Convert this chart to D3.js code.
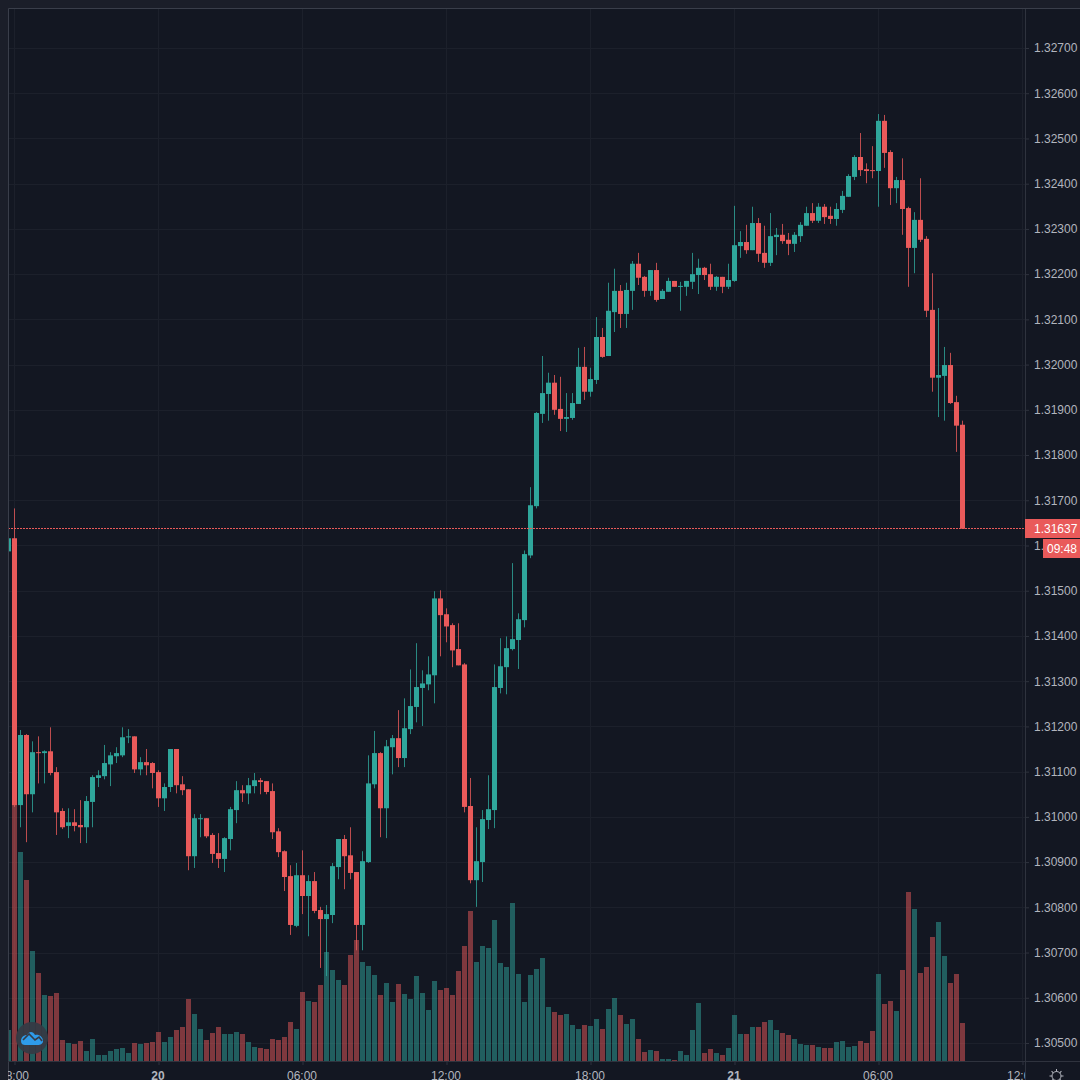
<!DOCTYPE html>
<html>
<head>
<meta charset="utf-8">
<script src="https://cdnjs.cloudflare.com/ajax/libs/d3/7.8.5/d3.min.js"></script>
<style>
html, body { margin: 0; padding: 0; background: #1b1e29; }
svg { display: block; }
text { font-family: "Liberation Sans", Arial, sans-serif; }
</style>
</head>
<body>
<svg id="chart" width="1080" height="1080"></svg>
<script>
// 15 minute candles, first one is half hidden behind the left edge
const firstCandle = Date.UTC(2020, 9, 19, 17, 45)
const stepMs = 15 * 60 * 1000

const opens = [
  1.31587, 1.31616, 1.31026, 1.31181, 1.31050, 1.31143, 1.31141, 1.31145, 1.31099, 1.31013,
  1.30980, 1.30988, 1.30982, 1.30977, 1.31033, 1.31086, 1.31090, 1.31116, 1.31134, 1.31136,
  1.31176, 1.31178, 1.31105, 1.31121, 1.31119, 1.31099, 1.31041, 1.31066, 1.31150, 1.31072,
  1.31061, 1.30913, 1.30995, 1.30997, 1.30960, 1.30920, 1.30907, 1.30951, 1.31015, 1.31059,
  1.31052, 1.31068, 1.31081, 1.31079, 1.31057, 1.30968, 1.30924, 1.30869, 1.30759, 1.30871,
  1.30825, 1.30858, 1.30794, 1.30774, 1.30783, 1.30889, 1.30951, 1.30915, 1.30878, 1.30761,
  1.30900, 1.31072, 1.31141, 1.31019, 1.31154, 1.31174, 1.31130, 1.31194, 1.31243, 1.31285,
  1.31293, 1.31313, 1.31483, 1.31448, 1.31424, 1.31371, 1.31337, 1.31024, 1.30860, 1.30900,
  1.30993, 1.31015, 1.31285, 1.31331, 1.31371, 1.31391, 1.31435, 1.31578, 1.31687, 1.31891,
  1.31935, 1.31960, 1.31902, 1.31880, 1.31882, 1.31913, 1.31995, 1.31940, 1.31966, 1.32061,
  1.32019, 1.32116, 1.32163, 1.32112, 1.32163, 1.32223, 1.32194, 1.32163, 1.32209, 1.32145,
  1.32161, 1.32185, 1.32172, 1.32172, 1.32183, 1.32198, 1.32214, 1.32200, 1.32172, 1.32194,
  1.32172, 1.32185, 1.32262, 1.32271, 1.32253, 1.32313, 1.32247, 1.32225, 1.32282, 1.32287,
  1.32276, 1.32267, 1.32284, 1.32307, 1.32335, 1.32318, 1.32349, 1.32329, 1.32322, 1.32342,
  1.32371, 1.32415, 1.32459, 1.32432, 1.32430, 1.32428, 1.32539, 1.32470, 1.32390, 1.32408,
  1.32346, 1.32258, 1.32320, 1.32278, 1.32121, 1.31971, 1.31975, 1.31999, 1.31917, 1.31867
]

const highs = [
  1.31616, 1.31682, 1.31192, 1.31183, 1.31167, 1.31178, 1.31147, 1.31198, 1.31110, 1.31019,
  1.31019, 1.31017, 1.31037, 1.31046, 1.31092, 1.31103, 1.31159, 1.31143, 1.31154, 1.31198,
  1.31194, 1.31178, 1.31132, 1.31150, 1.31121, 1.31103, 1.31074, 1.31150, 1.31150, 1.31090,
  1.31061, 1.31006, 1.31006, 1.30997, 1.30964, 1.30964, 1.30955, 1.31022, 1.31079, 1.31070,
  1.31086, 1.31097, 1.31086, 1.31079, 1.31074, 1.30975, 1.30926, 1.30893, 1.30898, 1.30926,
  1.30871, 1.30878, 1.30801, 1.30805, 1.30898, 1.30951, 1.30960, 1.30977, 1.30878, 1.30924,
  1.31136, 1.31190, 1.31143, 1.31170, 1.31181, 1.31236, 1.31262, 1.31326, 1.31384, 1.31324,
  1.31355, 1.31499, 1.31501, 1.31461, 1.31428, 1.31428, 1.31340, 1.31086, 1.30977, 1.31015,
  1.31092, 1.31337, 1.31395, 1.31399, 1.31561, 1.31450, 1.31589, 1.31729, 1.31895, 1.32019,
  1.31982, 1.31977, 1.31973, 1.31937, 1.31937, 1.32037, 1.32039, 1.31993, 1.32105, 1.32081,
  1.32181, 1.32212, 1.32176, 1.32181, 1.32229, 1.32247, 1.32196, 1.32209, 1.32225, 1.32167,
  1.32192, 1.32185, 1.32183, 1.32185, 1.32247, 1.32234, 1.32216, 1.32223, 1.32196, 1.32194,
  1.32223, 1.32351, 1.32295, 1.32309, 1.32349, 1.32324, 1.32307, 1.32335, 1.32302, 1.32311,
  1.32291, 1.32293, 1.32315, 1.32349, 1.32357, 1.32357, 1.32355, 1.32349, 1.32357, 1.32384,
  1.32421, 1.32463, 1.32512, 1.32445, 1.32483, 1.32554, 1.32552, 1.32474, 1.32415, 1.32456,
  1.32349, 1.32337, 1.32412, 1.32284, 1.32202, 1.32125, 1.32039, 1.32026, 1.31931, 1.31876
]

const lows = [
  1.31587, 1.31022, 1.30977, 1.30944, 1.31010, 1.31074, 1.31074, 1.31092, 1.30960, 1.30973,
  1.30953, 1.30968, 1.30942, 1.30942, 1.30977, 1.31066, 1.31083, 1.31068, 1.31119, 1.31132,
  1.31163, 1.31097, 1.31092, 1.31092, 1.31063, 1.31022, 1.31013, 1.31055, 1.31052, 1.31048,
  1.30882, 1.30887, 1.30955, 1.30953, 1.30898, 1.30887, 1.30878, 1.30926, 1.30986, 1.31033,
  1.31028, 1.31052, 1.31050, 1.31050, 1.30951, 1.30911, 1.30836, 1.30739, 1.30756, 1.30785,
  1.30736, 1.30787, 1.30666, 1.30648, 1.30765, 1.30862, 1.30840, 1.30862, 1.30705, 1.30705,
  1.30898, 1.31063, 1.30955, 1.30953, 1.31094, 1.31110, 1.31110, 1.31183, 1.31209, 1.31201,
  1.31280, 1.31251, 1.31355, 1.31386, 1.31331, 1.31335, 1.31010, 1.30853, 1.30801, 1.30856,
  1.30973, 1.30975, 1.31273, 1.31271, 1.31368, 1.31327, 1.31419, 1.31572, 1.31682, 1.31871,
  1.31876, 1.31889, 1.31853, 1.31851, 1.31878, 1.31913, 1.31922, 1.31929, 1.31957, 1.32015,
  1.32019, 1.32072, 1.32081, 1.32081, 1.32121, 1.32176, 1.32150, 1.32152, 1.32139, 1.32145,
  1.32161, 1.32172, 1.32119, 1.32152, 1.32167, 1.32156, 1.32187, 1.32165, 1.32163, 1.32158,
  1.32167, 1.32183, 1.32236, 1.32245, 1.32253, 1.32227, 1.32214, 1.32218, 1.32242, 1.32267,
  1.32242, 1.32249, 1.32271, 1.32307, 1.32313, 1.32313, 1.32311, 1.32311, 1.32307, 1.32335,
  1.32371, 1.32408, 1.32417, 1.32401, 1.32412, 1.32349, 1.32435, 1.32353, 1.32357, 1.32287,
  1.32172, 1.32202, 1.32271, 1.32105, 1.31940, 1.31884, 1.31876, 1.31913, 1.31807, 1.31637
]

const closes = [
  1.31616, 1.31026, 1.31181, 1.31050, 1.31143, 1.31141, 1.31145, 1.31097, 1.31010, 1.30977,
  1.30988, 1.30980, 1.30977, 1.31035, 1.31088, 1.31092, 1.31119, 1.31136, 1.31141, 1.31176,
  1.31178, 1.31105, 1.31121, 1.31114, 1.31097, 1.31041, 1.31066, 1.31150, 1.31070, 1.31059,
  1.30913, 1.30997, 1.30997, 1.30957, 1.30918, 1.30907, 1.30953, 1.31017, 1.31059, 1.31052,
  1.31070, 1.31081, 1.31077, 1.31055, 1.30966, 1.30922, 1.30867, 1.30761, 1.30871, 1.30825,
  1.30858, 1.30792, 1.30774, 1.30785, 1.30891, 1.30951, 1.30913, 1.30876, 1.30761, 1.30902,
  1.31074, 1.31141, 1.31019, 1.31156, 1.31174, 1.31130, 1.31196, 1.31245, 1.31287, 1.31295,
  1.31315, 1.31483, 1.31446, 1.31421, 1.31368, 1.31335, 1.31022, 1.30860, 1.30902, 1.30995,
  1.31017, 1.31287, 1.31333, 1.31373, 1.31393, 1.31437, 1.31581, 1.31689, 1.31893, 1.31937,
  1.31960, 1.31900, 1.31880, 1.31884, 1.31915, 1.31995, 1.31940, 1.31968, 1.32061, 1.32017,
  1.32119, 1.32163, 1.32112, 1.32165, 1.32223, 1.32192, 1.32163, 1.32209, 1.32143, 1.32163,
  1.32185, 1.32172, 1.32174, 1.32185, 1.32200, 1.32214, 1.32198, 1.32172, 1.32194, 1.32172,
  1.32187, 1.32264, 1.32271, 1.32253, 1.32313, 1.32245, 1.32225, 1.32284, 1.32287, 1.32273,
  1.32267, 1.32287, 1.32309, 1.32335, 1.32318, 1.32349, 1.32326, 1.32322, 1.32344, 1.32373,
  1.32417, 1.32459, 1.32430, 1.32428, 1.32428, 1.32539, 1.32468, 1.32390, 1.32408, 1.32344,
  1.32258, 1.32320, 1.32276, 1.32119, 1.31971, 1.31977, 1.31999, 1.31915, 1.31865, 1.31637
]

const volumes = [
  31, 256, 209, 181, 110, 88, 66, 65, 68, 21,
  18, 17, 20, 10, 22, 6, 6, 10, 12, 13,
  8, 18, 17, 18, 19, 29, 19, 24, 31, 34,
  62, 47, 32, 21, 28, 34, 27, 27, 29, 27,
  19, 14, 13, 12, 22, 21, 24, 39, 32, 69,
  60, 59, 76, 109, 91, 81, 76, 106, 121, 99,
  95, 86, 66, 78, 59, 77, 67, 62, 85, 68,
  51, 80, 71, 73, 66, 90, 115, 150, 99, 115,
  113, 141, 98, 94, 158, 87, 59, 86, 92, 103,
  54, 49, 46, 47, 36, 32, 36, 35, 42, 32,
  52, 63, 46, 37, 42, 22, 9, 11, 10, 2,
  2, 1, 10, 6, 31, 58, 8, 12, 8, 6,
  13, 46, 27, 27, 34, 34, 39, 41, 31, 28,
  26, 22, 17, 16, 16, 14, 13, 13, 19, 20,
  14, 15, 20, 18, 30, 87, 57, 60, 50, 91,
  169, 152, 88, 94, 124, 139, 105, 78, 87, 38
]

const priceTicks = d3.range(0, 23).map(i => (130500 + i * 100) / 100000)
const timeTicks = [
  Date.UTC(2020, 9, 19, 18), Date.UTC(2020, 9, 20, 0), Date.UTC(2020, 9, 20, 6),
  Date.UTC(2020, 9, 20, 12), Date.UTC(2020, 9, 20, 18), Date.UTC(2020, 9, 21, 0),
  Date.UTC(2020, 9, 21, 6), Date.UTC(2020, 9, 21, 12)
].map(t => new Date(t))

const lastPrice = 1.31637
const countdown = '09:48'

const upColor = '#2fa69b'
const downColor = '#e95a5a'
const textColor = '#b2b5be'
const gridColor = '#1c202b'
const lineColor = '#2f333e'
const bgColor = '#131722'

const paneLeft = 8, paneTop = 9, paneRight = 1025, paneBottom = 1061

const candles = opens.map((o, i) => ({
  time: new Date(firstCandle + i * stepMs),
  open: o, high: highs[i], low: lows[i], close: closes[i], volume: volumes[i]
}))

let svg = d3.select('#chart')

let x = d3.scaleTime()
  .domain([candles[0].time, candles[candles.length - 1].time])
  .range([8.5, 962.5])

let y = d3.scaleLinear()
  .domain([1.305, 1.327])
  .range([1043, 48])

let vol = d3.scaleLinear()
  .domain([0, 256])
  .range([paneBottom, 805])

let defs = svg.append('defs')
defs.append('clipPath').attr('id', 'pane')
  .append('rect').attr('x', paneLeft).attr('y', paneTop).attr('width', paneRight - paneLeft).attr('height', paneBottom - paneTop)
defs.append('clipPath').attr('id', 'timeClip')
  .append('rect').attr('x', paneLeft).attr('y', paneBottom).attr('width', paneRight - paneLeft).attr('height', 1080 - paneBottom)

svg.append('rect')
  .attr('x', paneLeft).attr('y', paneTop)
  .attr('width', 1080 - paneLeft).attr('height', 1080 - paneTop)
  .attr('fill', bgColor)

let pane = svg.append('g').attr('clip-path', 'url(#pane)')

pane.selectAll('line.hgrid')
  .data(priceTicks)
  .enter().append('line')
  .attr('class', 'hgrid')
  .attr('x1', paneLeft).attr('x2', paneRight)
  .attr('y1', d => Math.round(y(d)) + 0.5).attr('y2', d => Math.round(y(d)) + 0.5)
  .attr('stroke', gridColor)

pane.selectAll('line.vgrid')
  .data(timeTicks)
  .enter().append('line')
  .attr('class', 'vgrid')
  .attr('x1', d => x(d)).attr('x2', d => x(d))
  .attr('y1', paneTop).attr('y2', paneBottom)
  .attr('stroke', gridColor)

pane.selectAll('rect.vol')
  .data(candles)
  .enter().append('rect')
  .attr('class', 'vol')
  .attr('x', d => x(d.time) - 2.5)
  .attr('width', 5)
  .attr('y', d => vol(d.volume))
  .attr('height', d => paneBottom - vol(d.volume))
  .attr('fill', d => d.close >= d.open ? upColor : downColor)
  .attr('fill-opacity', 0.5)

pane.selectAll('line.wick')
  .data(candles)
  .enter().append('line')
  .attr('class', 'wick')
  .attr('x1', d => x(d.time)).attr('x2', d => x(d.time))
  .attr('y1', d => y(d.high)).attr('y2', d => y(d.low))
  .attr('stroke', d => d.close >= d.open ? upColor : downColor)
  .attr('stroke-width', 1)
  .attr('stroke-opacity', 0.8)

pane.selectAll('rect.body')
  .data(candles)
  .enter().append('rect')
  .attr('class', 'body')
  .attr('x', d => x(d.time) - 2.5)
  .attr('width', 5)
  .attr('y', d => Math.min(y(d.open), y(d.close)))
  .attr('height', d => Math.max(1, Math.abs(y(d.open) - y(d.close))))
  .attr('fill', d => d.close >= d.open ? upColor : downColor)

// last price line
let tagY = Math.floor(y(lastPrice))

pane.append('line')
  .attr('x1', paneLeft).attr('x2', paneRight)
  .attr('y1', tagY + 0.5).attr('y2', tagY + 0.5)
  .attr('stroke', downColor)
  .attr('stroke-dasharray', '2 1')

// frame
svg.append('path')
  .attr('d', `M${paneLeft + 0.5},1080V${paneTop - 0.5}H1080`)
  .attr('fill', 'none').attr('stroke', '#3a3e4a')
svg.append('line')
  .attr('x1', paneRight + 0.5).attr('x2', paneRight + 0.5).attr('y1', paneTop).attr('y2', 1080)
  .attr('stroke', lineColor)
svg.append('line')
  .attr('x1', paneLeft).attr('x2', 1080).attr('y1', paneBottom + 0.5).attr('y2', paneBottom + 0.5)
  .attr('stroke', lineColor)

// axes
let yAxis = d3.axisRight(y)
  .tickValues(priceTicks)
  .tickFormat(d3.format('.5f'))
  .tickSize(4)
  .tickPadding(5)

let yG = svg.append('g')
  .attr('transform', `translate(${paneRight},0)`)
  .call(yAxis)
yG.select('.domain').remove()
yG.selectAll('line').attr('stroke', lineColor)
yG.selectAll('text').attr('fill', textColor).style('font-size', '12px')

const fmtTime = d => d.getUTCHours() === 0 ? d3.utcFormat('%-d')(d) : d3.utcFormat('%H:%M')(d)

let xAxis = d3.axisBottom(x)
  .tickValues(timeTicks)
  .tickFormat(fmtTime)
  .tickSize(4)
  .tickPadding(6)

let xG = svg.append('g')
  .attr('clip-path', 'url(#timeClip)')
  .append('g')
  .attr('transform', `translate(0,${paneBottom})`)
  .call(xAxis)
xG.select('.domain').remove()
xG.selectAll('line').attr('stroke', lineColor)
xG.selectAll('text')
  .attr('x', -1)
  .attr('y', 10.5)
  .attr('fill', textColor)
  .style('font-size', '12px')
  .style('font-weight', d => d.getUTCHours() === 0 ? 'bold' : 'normal')

// price and countdown tags
svg.append('rect')
  .attr('x', paneRight).attr('y', tagY - 9).attr('width', 1080 - paneRight).attr('height', 19)
  .attr('fill', downColor)
svg.append('text')
  .attr('x', 1034).attr('y', tagY + 4.5)
  .attr('fill', '#fff').style('font-size', '12px')
  .text(d3.format('.5f')(lastPrice))
svg.append('rect')
  .attr('x', 1043).attr('y', tagY + 11).attr('width', 37).attr('height', 19)
  .attr('fill', downColor)
svg.append('text')
  .attr('x', 1047).attr('y', tagY + 25)
  .attr('fill', '#fff').style('font-size', '12px')
  .text(countdown)

// logo bubble
let logo = svg.append('g').attr('transform', 'translate(32,1038)')
logo.append('circle').attr('r', 16).attr('fill', '#363a45').attr('fill-opacity', 0.95)
logo.append('path')
  .attr('d', 'M-11,3C-11,-1 -8,-3 -5,-3C-3,-7 1,-7 3,-3C7,-4 11,-1 11,3C11,6 8,7 6,7H-7C-9,7 -11,6 -11,3Z')
  .attr('fill', '#2e9bea')
logo.append('path')
  .attr('d', 'M-9,2L-3,-4L3,2L7,-1L10,3')
  .attr('fill', 'none').attr('stroke', '#363a45').attr('stroke-width', 1.6)

// settings gear
let gear = svg.append('g').attr('transform', 'translate(1056.5,1076)')
  .attr('fill', 'none').attr('stroke', textColor).attr('stroke-width', 1)
gear.append('circle').attr('r', 4.5)
gear.selectAll('line')
  .data(d3.range(8))
  .enter().append('line')
  .attr('x1', 4.5).attr('x2', 7)
  .attr('transform', d => `rotate(${d * 45})`)
</script>
</body>
</html>
